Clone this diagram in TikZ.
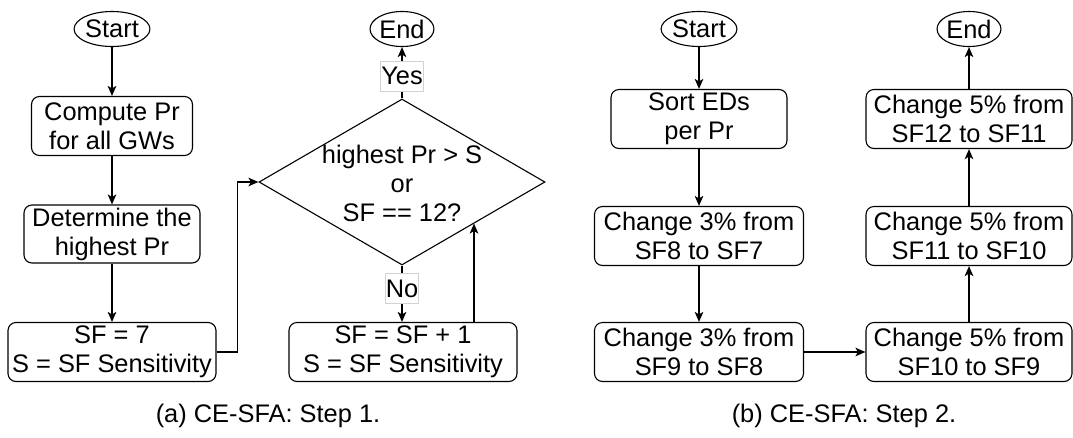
\documentclass[tikz,border=0pt]{standalone}
\usepackage{fontspec}
\setmainfont{Liberation Sans}
\usetikzlibrary{shapes.geometric,arrows.meta,calc}
\begin{document}
\begin{tikzpicture}[x=1pt,y=-1pt,
  every node/.style={font=\fontsize{25.4}{29}\selectfont},
  box/.style={draw, rounded corners=8pt, line width=1.1pt, inner sep=0pt, align=center},
  term/.style={draw, ellipse, line width=1.1pt, inner sep=0pt},
  arr/.style={line width=1.8pt, -{Stealth[length=10pt,width=8.5pt,inset=2.5pt]}},
  lbl/.style={fill=white, draw=gray!35, line width=0.6pt, inner xsep=0.5pt, inner ysep=0pt, minimum height=30pt}]
\useasboundingbox (0,0) rectangle (1073,437);

% ---------- (a) ----------
\node[term, minimum width=67pt, minimum height=35pt] (startA) at (112,29) {Start};
\node[box, minimum width=161pt, minimum height=59pt] (compA) at (112,126) {Compute Pr\\for all GWs};
\node[box, minimum width=176pt, minimum height=58pt] (detA) at (112,234) {Determine the\\highest Pr};
\node[box, minimum width=208pt, minimum height=59pt] (sfA) at (112,352) {SF = 7\\S = SF Sensitivity};
\node[draw, diamond, line width=1.1pt, minimum width=286pt, minimum height=166pt, inner sep=0pt, aspect=1.72] (dec) at (402,182) {};
\node[align=center] (dectxt) at (402,183) {highest Pr > S\\or\\SF == 12?};
\node[term, minimum width=60pt, minimum height=35pt] (endA) at (402,29) {End};
\node[box, minimum width=228pt, minimum height=59pt] (incA) at (403,352) {SF = SF + 1\\S = SF Sensitivity};
\coordinate (decIn) at (474,223.5);

\draw[arr] (startA) -- (compA);
\draw[arr] (compA) -- (detA);
\draw[arr] (detA) -- (sfA);
\draw[arr] (sfA.east) -- ++(21,0) |- (dec.west);
\draw[arr] (dec.north) -- (endA.south) node[lbl, pos=0.44] (yes) {Yes};
\draw[arr] (dec.south) -- (incA.north -| dec.south) node[lbl, pos=0.41] (no) {No};
\draw[arr] (decIn |- incA.north) -- (decIn);

\node (capA) at (268,416) {(a) CE-SFA: Step 1.};

% ---------- (b) ----------
\node[term, minimum width=66pt, minimum height=35pt] (startB) at (699,29) {Start};
\node[box, minimum width=176pt, minimum height=59pt] (sortB) at (699,119) {Sort EDs\\per Pr};
\node[box, minimum width=209pt, minimum height=59pt] (c87) at (699,236) {Change 3\% from\\SF8 to SF7};
\node[box, minimum width=209pt, minimum height=59pt] (c98) at (699,352) {Change 3\% from\\SF9 to SF8};
\node[box, minimum width=206pt, minimum height=59pt] (c109) at (969,352) {Change 5\% from\\SF10 to SF9};
\node[box, minimum width=206pt, minimum height=59pt] (c1110) at (969,236) {Change 5\% from\\SF11 to SF10};
\node[box, minimum width=206pt, minimum height=59pt] (c1211) at (969,119) {Change 5\% from\\SF12 to SF11};
\node[term, minimum width=60pt, minimum height=35pt] (endB) at (969,29) {End};

\draw[arr] (startB) -- (sortB);
\draw[arr] (sortB) -- (c87);
\draw[arr] (c87) -- (c98);
\draw[arr] (c98) -- (c109);
\draw[arr] (c109) -- (c1110);
\draw[arr] (c1110) -- (c1211);
\draw[arr] (c1211) -- (endB);

\node (capB) at (844,416) {(b) CE-SFA: Step 2.};
\end{tikzpicture}
\end{document}
